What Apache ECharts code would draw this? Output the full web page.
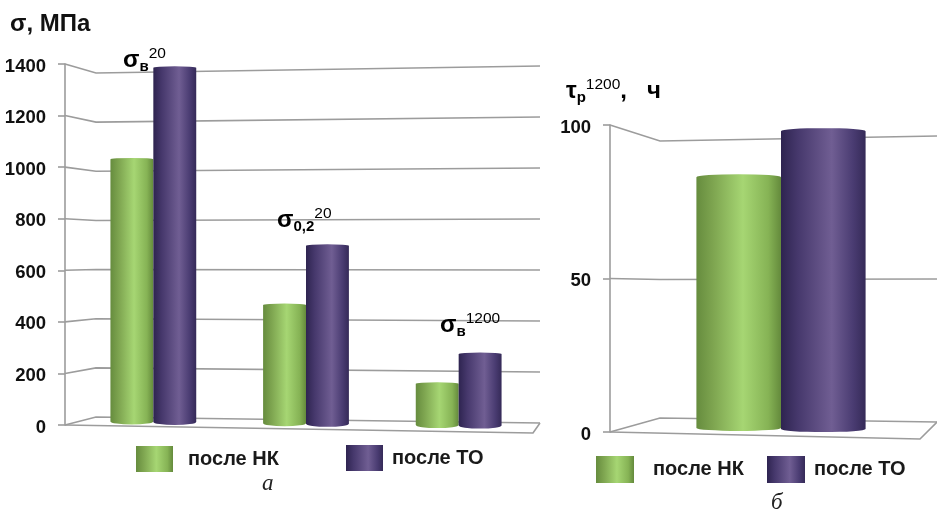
<!DOCTYPE html>
<html><head><meta charset="utf-8">
<style>html,body{margin:0;padding:0;background:#fff}#c{width:937px;height:510px}</style>
<script src="https://cdn.jsdelivr.net/npm/echarts@6/dist/echarts.min.js"></script>
</head><body><div id="c"></div>
<script>
// --- data ---
const seriesNames = ['после НК', 'после ТО'];
const categoriesA = ['σв20', 'σ0,220', 'σв1200'];
const afterNkA = [1030, 465, 160];
const afterToA = [1385, 695, 275];
const ticksA = [0, 200, 400, 600, 800, 1000, 1200, 1400];
const categoriesB = ['τр1200'];
const afterNkB = [83];
const afterToB = [98];
const ticksB = [0, 50, 100];

// --- styling ---
const LINE = '#9c9c9c';
const grad = s => ({type:'linear',x:0,y:0,x2:1,y2:0,colorStops:s});
const GREEN = grad([{offset:0,color:'#668c3e'},{offset:.2,color:'#7ea550'},{offset:.55,color:'#a6d673'},{offset:.85,color:'#86b355'},{offset:1,color:'#648a3c'}]);
const PURPLE = grad([{offset:0,color:'#2e2450'},{offset:.2,color:'#46386c'},{offset:.6,color:'#705e93'},{offset:.85,color:'#4a3c72'},{offset:1,color:'#352a58'}]);

const geoA = {backX:31,rightX:475,frontRightX:468,dyTopL:9,dyBotL:-8,dyTopR:2,dyBotR:-2,frontRightDy:8,w:.281,slope:.012,base:-1.5,capT:1.5,capB:3,axisX:-12};
const geoB = {backX:50,rightX:327,frontRightX:310,dyTopL:16,dyBotL:-14,dyTopR:11,dyBotR:-10,frontRightDy:7,w:.3,slope:.012,base:-3.5,capT:3,capB:3,axisX:-30};

function wallItem(geo, maxV){
  return function(params, api){
    const v = api.value(1), cs = params.coordSys;
    const y = api.coord([0, v])[1];
    const x0 = cs.x + geo.axisX, t = v / maxV;
    const yL = y + geo.dyBotL + (geo.dyTopL - geo.dyBotL) * t;
    const yR = y + geo.dyBotR + (geo.dyTopR - geo.dyBotR) * t;
    const kids = [{type:'polyline',shape:{points:[[x0,y],[x0+geo.backX,yL],[x0+geo.rightX,yR]]},
      style:{stroke:LINE,lineWidth:1.6,fill:null}}];
    if (v === 0) {
      kids.push({type:'polyline',shape:{points:[[x0,y],[x0+geo.frontRightX,y+geo.frontRightDy],[x0+geo.rightX,yR]]},
        style:{stroke:LINE,lineWidth:1.6,fill:null}});
    }
    return {type:'group',children:kids};
  };
}
function cylinder(geo, side, fill){
  return function(params, api){
    const c = api.coord([api.value(0), api.value(1)]);
    const w = api.size([1,0])[0] * geo.w;
    const left = side < 0 ? c[0] - w : c[0];
    const cs = params.coordSys;
    const bottom = cs.y + cs.height + geo.base + (left + w/2 - (cs.x + cs.width/2)) * geo.slope;
    const top = c[1];
    const d = `M${left} ${top} A${w/2} ${geo.capT} 0 0 1 ${left+w} ${top} L${left+w} ${bottom} A${w/2} ${geo.capB} 0 0 1 ${left} ${bottom} Z`;
    return {type:'path',shape:{pathData:d,x:left,y:top-geo.capT,width:w,height:bottom-top+geo.capT+geo.capB,layout:'cover'},
      style:{fill:fill}};
  };
}
const pairs = a => a.map((v,i)=>[i,v]);
const tickData = t => t.map(v=>[0,v]);
function cyl(name, gi, geo, side, fill, vals, z){
  return {type:'custom',name,xAxisIndex:gi,yAxisIndex:gi,clip:false,z,silent:true,
    itemStyle:{color:fill},renderItem:cylinder(geo,side,fill),data:pairs(vals),encode:{x:0,y:1}};
}
function wall(gi, geo, maxV, ticks){
  return {type:'custom',xAxisIndex:gi,yAxisIndex:gi,clip:false,z:1,silent:true,
    renderItem:wallItem(geo,maxV),data:tickData(ticks),encode:{x:0,y:1}};
}
const yAxisBase = {type:'value',position:'left',
  axisLine:{show:true,lineStyle:{color:LINE,width:1.6}},
  axisTick:{show:true,length:7,lineStyle:{color:LINE,width:1.6}},
  splitLine:{show:false},
  axisLabel:{color:'#111',fontFamily:'Liberation Sans',fontWeight:'bold',fontSize:18.5,margin:19,verticalAlign:'top',lineHeight:5,showMinLabel:true,showMaxLabel:true,formatter:v=>String(v)}};
const xAxisBase = {type:'category',show:false,axisTick:{show:false}};
const legendBase = {icon:'rect',itemWidth:38,itemHeight:27,selectedMode:false,padding:0,
  textStyle:{color:'#1a1a1a',fontFamily:'Liberation Sans',fontWeight:'bold',fontSize:20,padding:[0,0,0,10]}};
const big = {fontFamily:'Liberation Sans',fontWeight:'bold',fontSize:24,fill:'#111'};
function sigma(x,y,base,sub,sup,tail){
  return {type:'text',x,y,z:20,silent:true,style:{
    text:`{a|${base}}{b|${sub}}{c|${sup}}`+(tail?`{a|${tail}}`:''),
    rich:{
      a:{fontFamily:'Liberation Sans',fontWeight:'bold',fontSize:24,color:'#111',lineHeight:28,verticalAlign:'middle'},
      b:{fontFamily:'Liberation Sans',fontWeight:'bold',fontSize:15,color:'#111',lineHeight:28,verticalAlign:'bottom'},
      c:{fontFamily:'Liberation Sans',fontSize:15.5,fontWeight:'normal',color:'#111',lineHeight:28,verticalAlign:'top'}
    }}};
}
const chart = echarts.init(document.getElementById('c'),null,{renderer:'canvas'});
chart.setOption({
  backgroundColor:'#fff',animation:false,
  grid:[{left:77,top:64,width:458,height:361},{left:640,top:125,width:282,height:307}],
  xAxis:[{...xAxisBase,gridIndex:0,data:categoriesA},{...xAxisBase,gridIndex:1,data:categoriesB}],
  yAxis:[
    {...yAxisBase,gridIndex:0,min:0,max:1400,interval:200,offset:12},
    {...yAxisBase,gridIndex:1,min:0,max:100,interval:50,offset:30}
  ],
  legend:[
    {...legendBase,left:136,top:446,itemWidth:37,itemHeight:26,data:[seriesNames[0]]},
    {...legendBase,left:346,top:445,itemWidth:37,itemHeight:26,textStyle:{...legendBase.textStyle,padding:[0,0,0,4]},data:[seriesNames[1]]},
    {...legendBase,left:596,top:456,textStyle:{...legendBase.textStyle,padding:[0,0,0,14]},data:[seriesNames[0]]},
    {...legendBase,left:767,top:456,textStyle:{...legendBase.textStyle,padding:[0,0,0,4]},data:[seriesNames[1]]}
  ],
  series:[
    wall(0,geoA,1400,ticksA),
    wall(1,geoB,100,ticksB),
    cyl(seriesNames[0],0,geoA,-1,GREEN,afterNkA,5),
    cyl(seriesNames[1],0,geoA,1,PURPLE,afterToA,6),
    cyl(seriesNames[0],1,geoB,-1,GREEN,afterNkB,5),
    cyl(seriesNames[1],1,geoB,1,PURPLE,afterToB,6)
  ],
  graphic:[
    {type:'text',x:10,y:12,z:20,silent:true,style:{text:'σ, МПа',...big}},
    sigma(123,46,'σ','в','20'),
    sigma(277,206,'σ','0,2','20'),
    sigma(440,311,'σ','в','1200'),
    sigma(566,77,'τ','р','1200',',   ч'),
    {type:'text',x:262,y:472,z:20,silent:true,style:{text:'а',fontFamily:'Liberation Serif',fontStyle:'italic',fontSize:23,fill:'#222'}},
    {type:'text',x:771,y:491,z:20,silent:true,style:{text:'б',fontFamily:'Liberation Serif',fontStyle:'italic',fontSize:23,fill:'#222'}}
  ]
});
</script></body></html>
